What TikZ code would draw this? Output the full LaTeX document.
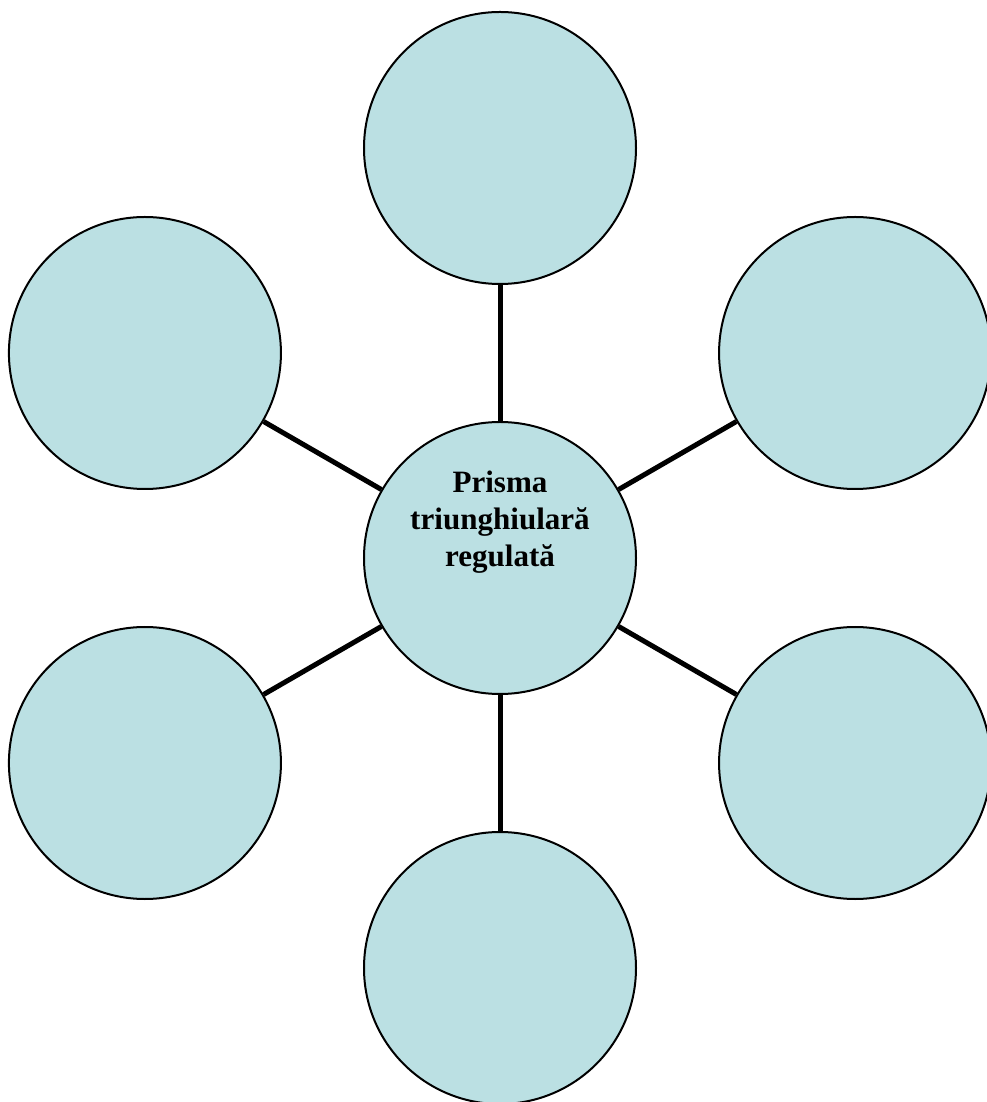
\documentclass[tikz,border=0pt]{standalone}
\usepackage{fontspec}
\setmainfont{Liberation Serif}
\usetikzlibrary{trees}
\definecolor{bubblefill}{RGB}{187,224,227}

\begin{document}
\begin{tikzpicture}[
      x=1pt, y=1pt,
      level 1/.style={level distance=307.5pt, clockwise from=90, sibling angle=60},
      bubble/.style={shape=circle, draw, line width=1.5pt, fill=bubblefill,
        minimum size=204pt, inner sep=0pt},
      every child node/.style={bubble},
      edge from parent/.style={draw, line width=3.75pt},
      title/.style={align=center, font=\bfseries\fontsize{23.3}{27.75}\selectfont}
    ]
      \useasboundingbox (-375,-408) rectangle (365.25,418.5);
      \clip (-375,-408) rectangle (365.25,418.5);
      \node[bubble, label={[title, yshift=27pt]center:{Prisma\\triunghiulară\\regulată}}] (prisma) {}
        child { node (top) {} }
        child { node (upright) {} }
        child { node (downright) {} }
        child { node (bottom) {} }
        child { node (downleft) {} }
        child { node (upleft) {} };
\end{tikzpicture}
\end{document}
